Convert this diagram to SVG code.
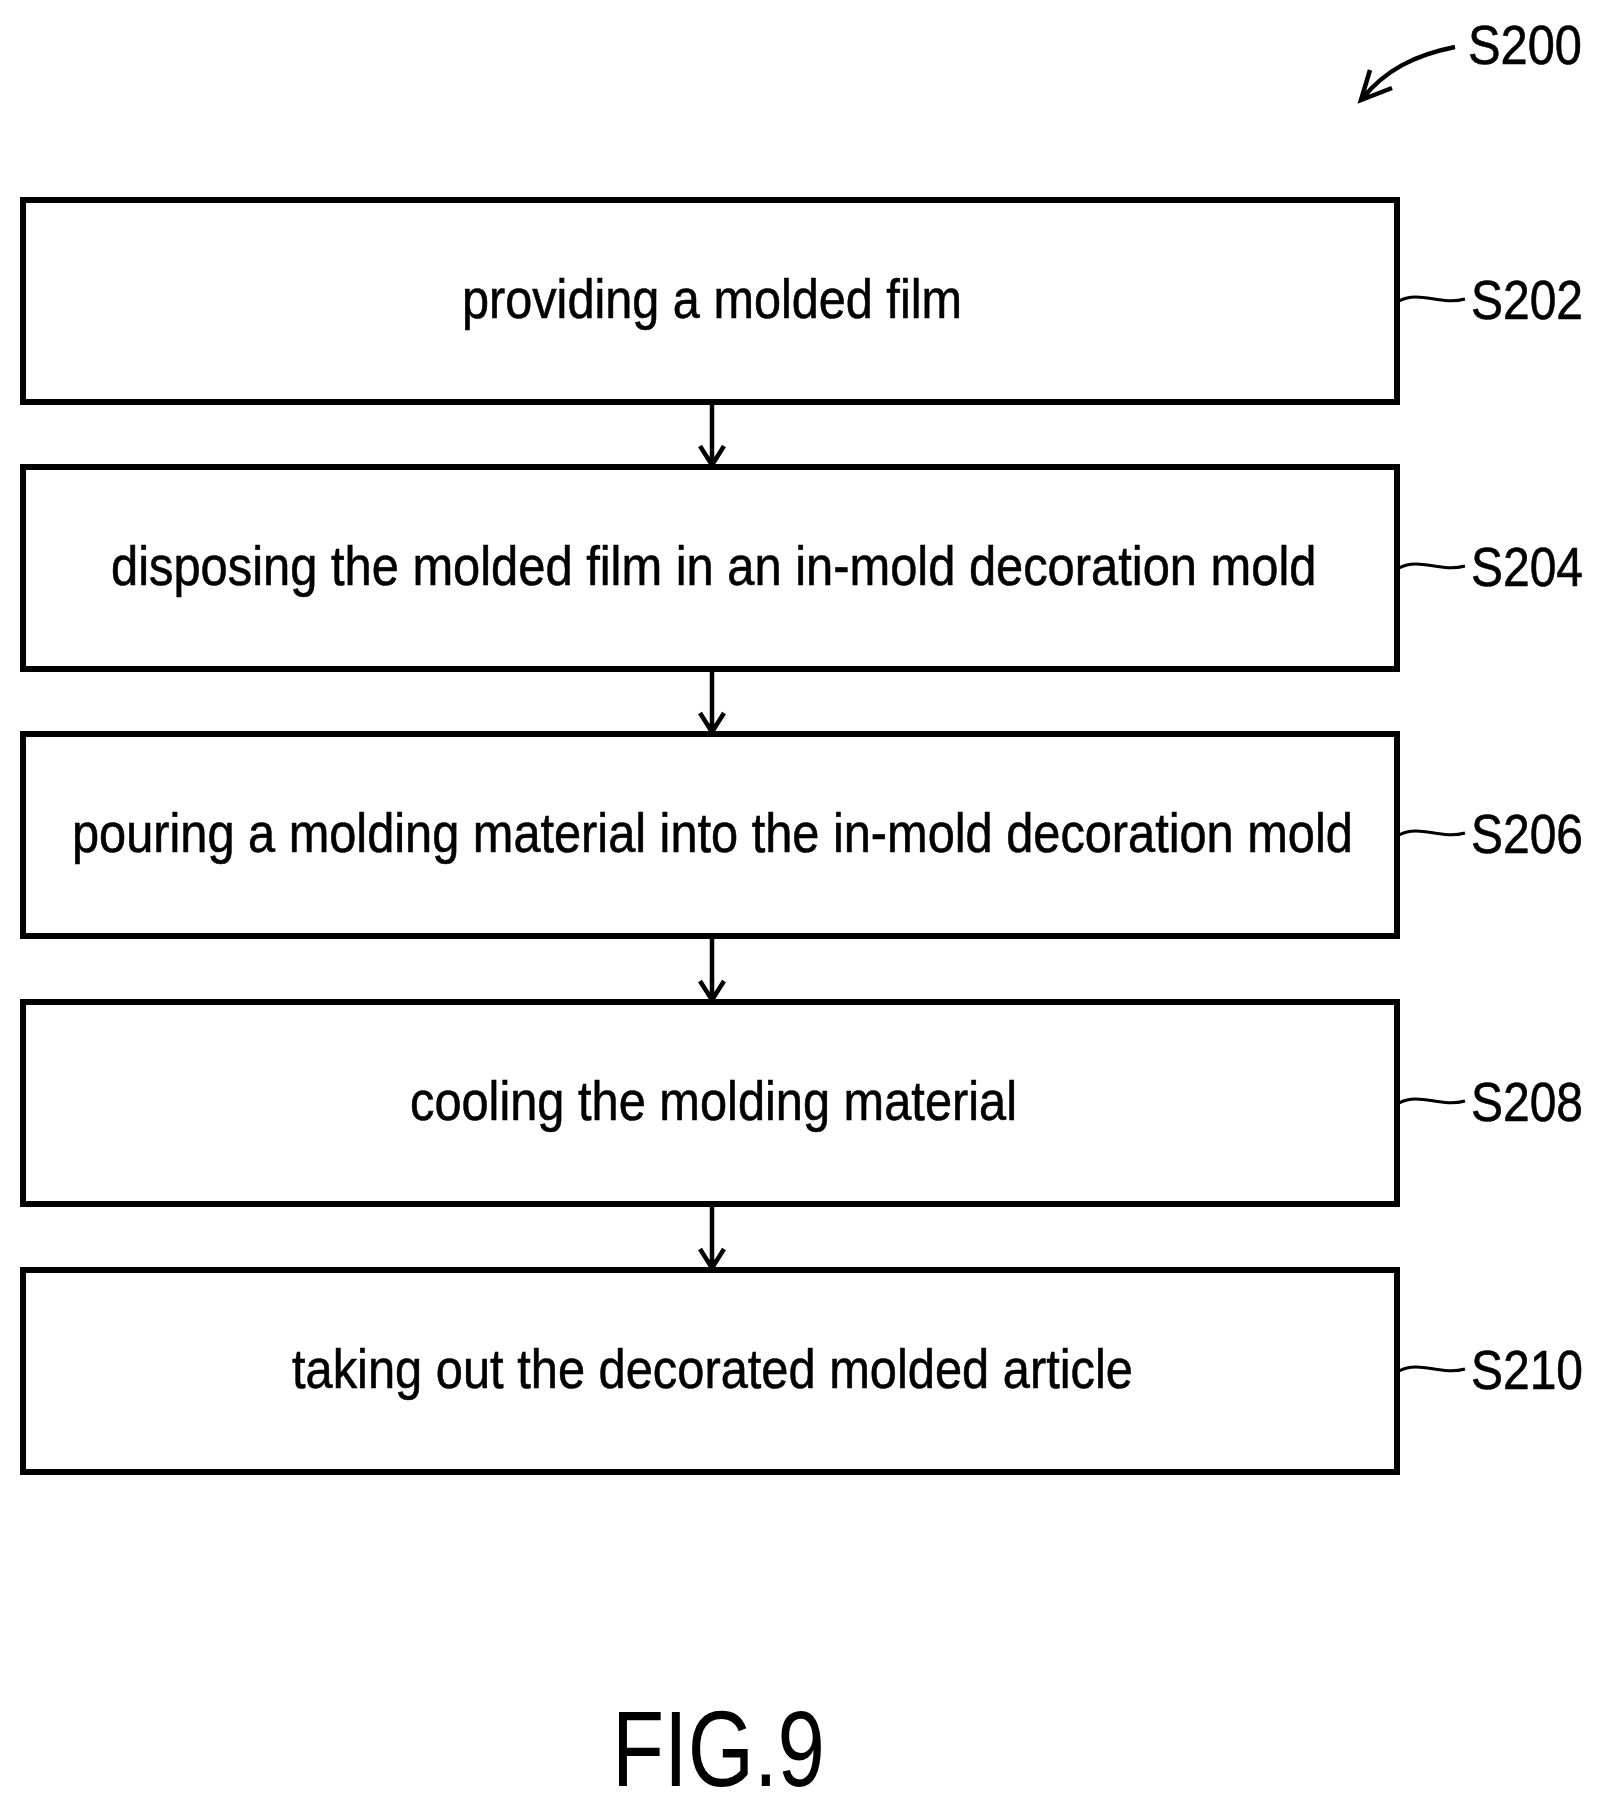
<svg xmlns="http://www.w3.org/2000/svg" width="1604" height="1811" viewBox="0 0 1604 1811">
<style>
.box{fill:#fff;stroke:#000;stroke-width:6}
.t{font-family:"Liberation Sans",Arial,sans-serif;font-size:56px;fill:#000;stroke:#000;stroke-width:0.6}
.c{fill:none;stroke:#000;stroke-width:4.5}
.l{fill:none;stroke:#000;stroke-width:3}
</style>
<rect width="1604" height="1811" fill="#fff"/>
<g id="n202"><rect class="box" x="23" y="200" width="1374" height="202"/><text class="t" x="462" y="318" textLength="500" lengthAdjust="spacingAndGlyphs">providing a molded film</text></g>
<g id="n204"><rect class="box" x="23" y="467" width="1374" height="202"/><text class="t" transform="translate(111 585) scale(0.82 1)" textLength="1470" lengthAdjust="spacingAndGlyphs">disposing the molded film in an in-mold decoration mold</text></g>
<g id="n206"><rect class="box" x="23" y="734" width="1374" height="202"/><text class="t" transform="translate(72 852) scale(0.82 1)" textLength="1562" lengthAdjust="spacingAndGlyphs">pouring a molding material into the in-mold decoration mold</text></g>
<g id="n208"><rect class="box" x="23" y="1002" width="1374" height="202"/><text class="t" x="410" y="1120" textLength="607" lengthAdjust="spacingAndGlyphs">cooling the molding material</text></g>
<g id="n210"><rect class="box" x="23" y="1270" width="1374" height="202"/><text class="t" x="292" y="1388" textLength="841" lengthAdjust="spacingAndGlyphs">taking out the decorated molded article</text></g>
<g id="labels">
<text class="t" x="1468" y="64" textLength="114" lengthAdjust="spacingAndGlyphs">S200</text>
<text class="t" x="1471" y="319" textLength="112" lengthAdjust="spacingAndGlyphs">S202</text>
<text class="t" x="1471" y="586" textLength="112" lengthAdjust="spacingAndGlyphs">S204</text>
<text class="t" x="1471" y="853" textLength="112" lengthAdjust="spacingAndGlyphs">S206</text>
<text class="t" x="1471" y="1121" textLength="112" lengthAdjust="spacingAndGlyphs">S208</text>
<text class="t" x="1471" y="1389" textLength="112" lengthAdjust="spacingAndGlyphs">S210</text>
<text x="612" y="1786" font-family="'Liberation Sans',Arial,sans-serif" font-size="108" textLength="213" lengthAdjust="spacingAndGlyphs">FIG.9</text>
</g>
<g id="connectors">
<path class="c" d="M712 402V464M700 446L712 465L724 446"/>
<path class="c" d="M712 669V731M700 713L712 732L724 713"/>
<path class="c" d="M712 936V999M700 981L712 1000L724 981"/>
<path class="c" d="M712 1204V1267M700 1249L712 1268L724 1249"/>
<path class="c" d="M1455 47C1415 55 1385 70 1362 99M1370 70L1361 100L1392 88"/>
<path class="l" d="M1399 301C1420 290 1440 306 1465 299"/>
<path class="l" d="M1399 568C1420 557 1440 573 1465 566"/>
<path class="l" d="M1399 835C1420 824 1440 840 1465 833"/>
<path class="l" d="M1399 1103C1420 1092 1440 1108 1465 1101"/>
<path class="l" d="M1399 1371C1420 1360 1440 1376 1465 1369"/>
</g>
</svg>
